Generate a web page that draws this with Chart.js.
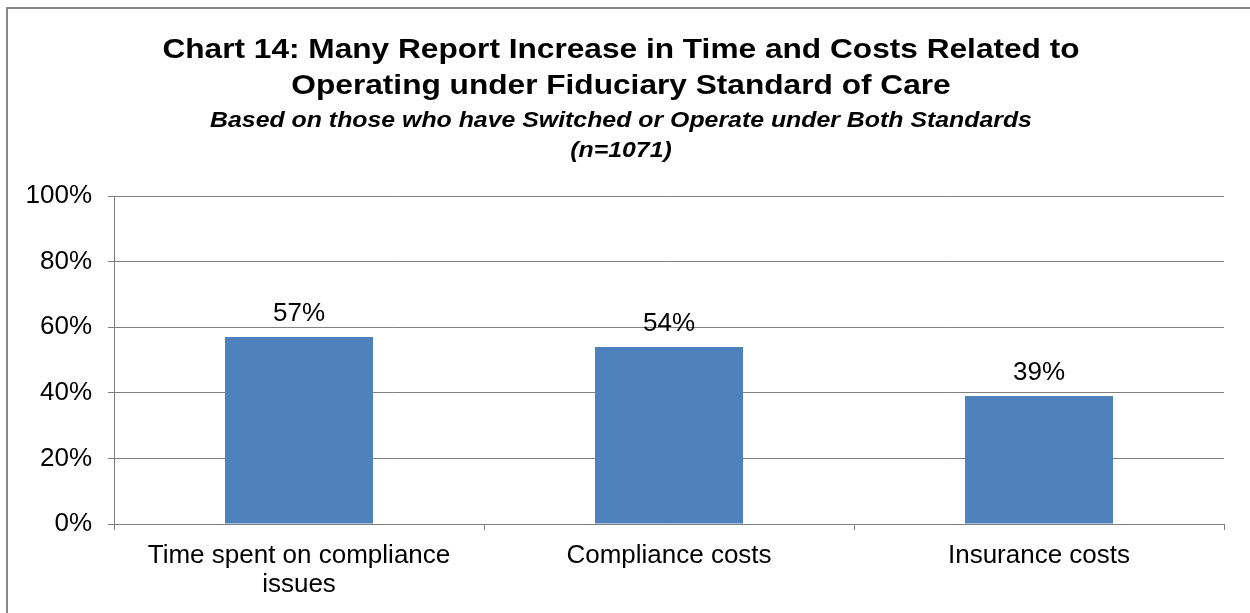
<!DOCTYPE html>
<html>
<head>
<meta charset="utf-8">
<script src="https://cdn.jsdelivr.net/npm/chart.js@4.4.1/dist/chart.umd.min.js"></script>
<style>
  html, body { margin: 0; padding: 0; background: #fff; }
  #wrap { width: 1250px; height: 613px; position: relative; }
</style>
</head>
<body>
<div id="wrap"><canvas id="chart" width="1250" height="613"></canvas></div>
<script>
// Survey results: share reporting an increase
const categories = [["Time spent on compliance", "issues"], "Compliance costs", "Insurance costs"];
const increaseShare = [57, 54, 39];
const yTicks = [0, 20, 40, 60, 80, 100];
const titleLines = ["Chart 14: Many Report Increase in Time and Costs Related to",
                    "Operating under Fiduciary Standard of Care"];
const subtitleLines = ["Based on those who have Switched or Operate under Both Standards",
                       "(n=1071)"];

const FONT = "'Liberation Sans', Arial, sans-serif";
const GRID = '#808080';

// Frame, heading and value labels
const decorations = {
  id: 'decorations',
  beforeDraw(chart) {
    const ctx = chart.ctx;
    ctx.save();
    ctx.fillStyle = '#fff';
    ctx.fillRect(0, 0, chart.width, chart.height);
    ctx.strokeStyle = '#888';
    ctx.lineWidth = 2;
    ctx.beginPath();
    ctx.moveTo(7, chart.height);
    ctx.lineTo(7, 8);
    ctx.lineTo(chart.width, 8);
    ctx.stroke();
    ctx.restore();
  },
  afterDraw(chart) {
    const ctx = chart.ctx;
    const cx = 621;
    const drawLine = (text, y, font) => {
      ctx.save();
      ctx.font = font;
      ctx.fillStyle = '#000';
      ctx.textAlign = 'center';
      ctx.textBaseline = 'alphabetic';
      ctx.translate(cx, y);
      ctx.scale(1.13, 1);
      ctx.fillText(text, 0, 0);
      ctx.restore();
    };
    drawLine(titleLines[0], 58, "bold 28px " + FONT);
    drawLine(titleLines[1], 94, "bold 28px " + FONT);
    drawLine(subtitleLines[0], 127, "italic bold 22px " + FONT);
    drawLine(subtitleLines[1], 157, "italic bold 22px " + FONT);

    // value labels above each bar
    const meta = chart.getDatasetMeta(0);
    ctx.save();
    ctx.font = "26px " + FONT;
    ctx.fillStyle = '#000';
    ctx.textAlign = 'center';
    ctx.textBaseline = 'alphabetic';
    meta.data.forEach((bar, i) => {
      ctx.fillText(increaseShare[i] + '%', bar.x, bar.y - 16);
    });
    ctx.restore();
  }
};

new Chart(document.getElementById('chart'), {
  type: 'bar',
  data: {
    labels: categories,
    datasets: [{
      data: increaseShare,
      backgroundColor: '#4F81BD',
      borderWidth: 0,
      barPercentage: 0.4,
      categoryPercentage: 1.0
    }]
  },
  options: {
    responsive: false,
    animation: false,
    devicePixelRatio: 1,
    layout: { padding: { top: 196, left: 14, right: 26, bottom: 0 } },
    plugins: {
      legend: { display: false },
      title: { display: false },
      tooltip: { enabled: false }
    },
    scales: {
      x: {
        offset: true,
        grid: {
          offset: true,
          drawOnChartArea: false,
          drawTicks: true,
          tickLength: 6,
          color: GRID,
          lineWidth: 1
        },
        border: { display: true, color: GRID, width: 1 },
        ticks: {
          color: '#000',
          padding: 11,
          maxRotation: 0,
          autoSkip: false,
          font: { family: FONT, size: 26, lineHeight: 1.12 }
        },
        afterFit(scale) { scale.height = 89; }
      },
      y: {
        min: 0,
        max: 100,
        afterBuildTicks(scale) { scale.ticks = yTicks.map(v => ({ value: v })); },
        grid: {
          drawTicks: true,
          tickLength: 6,
          color: GRID,
          lineWidth: 1
        },
        border: { display: true, color: GRID, width: 1 },
        ticks: {
          color: '#000',
          padding: 16,
          font: { family: FONT, size: 26 },
          callback: v => v + '%'
        },
        afterFit(scale) { scale.width = 100; }
      }
    }
  },
  plugins: [decorations]
});
</script>
</body>
</html>
